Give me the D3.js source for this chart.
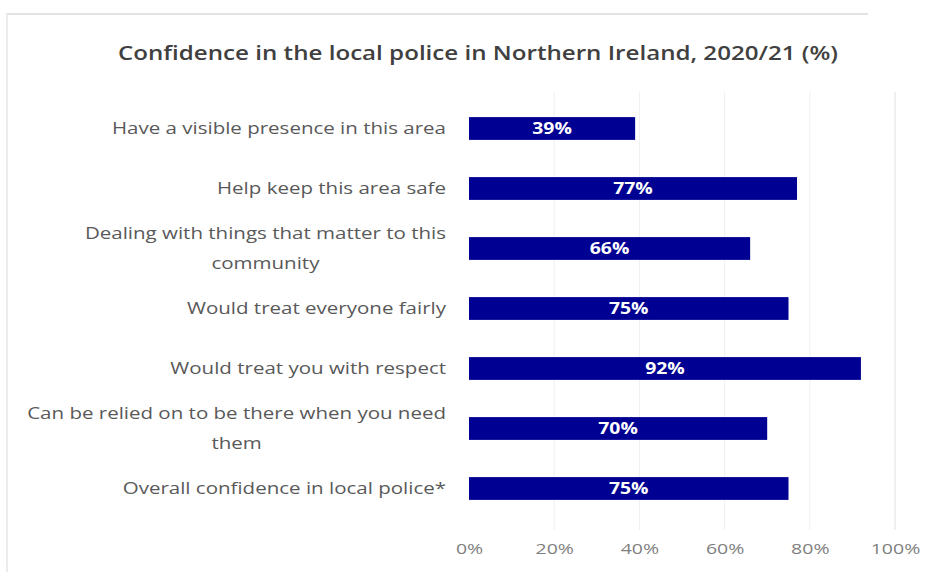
<!DOCTYPE html>
<html>
<head>
<meta charset="utf-8">
<script src="https://cdn.jsdelivr.net/npm/d3@7"></script>
<style>
  body { margin: 0; background: #fff; }
  text { font-family: "Open Sans", "Noto Sans", sans-serif; }
</style>
</head>
<body>
<div id="chart"></div>
<script>
const categories = [
  ['Have a visible presence in this area'],
  ['Help keep this area safe'],
  ['Dealing with things that matter to this', 'community'],
  ['Would treat everyone fairly'],
  ['Would treat you with respect'],
  ['Can be relied on to be there when you need', 'them'],
  ['Overall confidence in local police*']
];
const values = [39, 77, 66, 75, 92, 70, 75];
const ticks = [0, 20, 40, 60, 80, 100];

const width = 936, height = 572;
const x0 = 469, x1 = 895;

// the source picture is stretched sideways, so widen text to match
function stretch(sel, k) {
  sel.each(function () {
    const w = this.getComputedTextLength();
    d3.select(this).attr('textLength', w * k).attr('lengthAdjust', 'spacingAndGlyphs');
  });
}

const svg = d3.select('#chart')
  .append('svg')
  .attr('width', width)
  .attr('height', height);

// screenshot frame
svg.append('line').attr('x1', 6).attr('x2', 868).attr('y1', 14).attr('y2', 14)
  .attr('stroke', '#e2e2e2').attr('stroke-width', 2);
svg.append('line').attr('x1', 7).attr('x2', 7).attr('y1', 14).attr('y2', 572)
  .attr('stroke', '#ececec').attr('stroke-width', 2);

const x = d3.scaleLinear().domain([0, 100]).range([x0, x1]);
const y = d3.scaleBand()
  .domain(d3.range(values.length))
  .range([98.5, 518.5])
  .paddingInner(0.62)
  .paddingOuter(0.31);

// title
const title = svg.append('text')
  .attr('x', 478)
  .attr('y', 60)
  .attr('text-anchor', 'middle')
  .attr('font-size', 20.5)
  .attr('font-weight', 600)
  .attr('fill', '#404040')
  .text('Confidence in the local police in Northern Ireland, 2020/21 (%)');
stretch(title, 720 / title.node().getComputedTextLength());

// gridlines
svg.append('g')
  .selectAll('line')
  .data(ticks.slice(1))
  .join('line')
  .attr('x1', d => x(d)).attr('x2', d => x(d))
  .attr('y1', 92).attr('y2', 530)
  .attr('stroke', d => d === 100 ? '#e0e0e0' : '#f0f0f0')
  .attr('stroke-width', 1);

// x axis labels
const xAxis = svg.append('g')
  .attr('transform', 'translate(0,540)')
  .call(d3.axisBottom(x).tickValues(ticks).tickFormat(d => d + '%').tickSize(0).tickPadding(0));
xAxis.select('.domain').remove();
xAxis.selectAll('text')
  .attr('dy', '0.35em')
  .attr('y', 9)
  .attr('font-size', 15)
  .attr('font-family', '"Open Sans", sans-serif')
  .attr('fill', '#7f7f7f');
stretch(xAxis.selectAll('text'), 1.3);

// bars
svg.append('g')
  .selectAll('rect')
  .data(values)
  .join('rect')
  .attr('x', x(0))
  .attr('y', (d, i) => y(i))
  .attr('width', d => x(d) - x(0))
  .attr('height', y.bandwidth())
  .attr('fill', '#000092');

// bar labels
const barLabels = svg.append('g')
  .selectAll('text')
  .data(values)
  .join('text')
  .attr('x', d => (x(0) + x(d)) / 2)
  .attr('y', (d, i) => y(i) + y.bandwidth() / 2)
  .attr('dy', '0.36em')
  .attr('text-anchor', 'middle')
  .attr('font-size', 15.5)
  .attr('font-weight', 700)
  .attr('fill', '#ffffff')
  .text(d => d + '%');
stretch(barLabels, 1.25);

// category labels
const lineH = 30;
const cat = svg.append('g')
  .selectAll('g')
  .data(categories)
  .join('g')
  .attr('transform', (d, i) => `translate(446,${y(i) + y.bandwidth() / 2})`);

let k = null;
cat.each(function (lines) {
  const g = d3.select(this);
  const top = -(lines.length - 1) * lineH / 2;
  const first = g.append('text')
    .attr('x', 0)
    .attr('y', top)
    .attr('dy', '0.35em')
    .attr('text-anchor', 'end')
    .attr('font-size', 16.5)
    .attr('fill', '#595959')
    .text(lines[0]);
  const natural = first.node().getComputedTextLength();
  if (k === null) k = 334 / natural;
  stretch(first, k);
  if (lines.length > 1) {
    const w = natural * k;
    const second = g.append('text')
      .attr('x', -w / 2)
      .attr('y', top + lineH)
      .attr('dy', '0.35em')
      .attr('text-anchor', 'middle')
      .attr('font-size', 16.5)
      .attr('fill', '#595959')
      .text(lines[1]);
    stretch(second, k);
  }
});
</script>
</body>
</html>
